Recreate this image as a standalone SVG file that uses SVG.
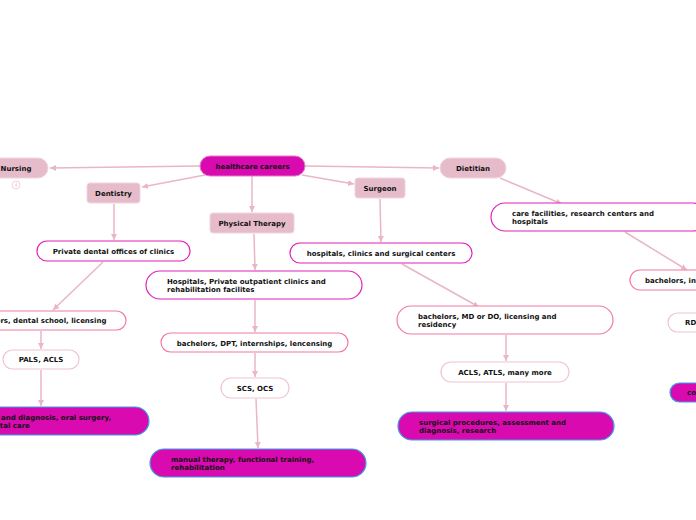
<svg xmlns="http://www.w3.org/2000/svg" width="696" height="520" viewBox="0 0 696 520">
<defs>
<style>
text{font-family:"DejaVu Sans","Liberation Sans",sans-serif;font-weight:bold;font-size:7px;fill:#111}
.m{text-anchor:middle}
.root{fill:#d90ab0;stroke:#e07ac8;stroke-width:1}
.l1{fill:#e6bccb;stroke:#f0d4de;stroke-width:1}
.l2{fill:#fff;stroke:#e020b8;stroke-width:1.2}
.l3{fill:#fff;stroke:#f07aa4;stroke-width:1.2}
.l4{fill:#fff;stroke:#f0c4d2;stroke-width:1.2}
.l5{fill:#d90ab0;stroke:#3aa0e8;stroke-width:1.2}
.c{fill:none;stroke:#e8b6c8;stroke-width:1.5;marker-end:url(#ah)}
</style>
<marker id="ah" markerUnits="userSpaceOnUse" markerWidth="7" markerHeight="7" refX="6" refY="3" orient="auto">
<path d="M0,0 L6,3 L0,6 z" fill="#e8b6c8"/>
</marker>
</defs>
<g id="connectors">
<path class="c" d="M200,166 L50,168"/>
<path class="c" d="M205,175 L142,187"/>
<path class="c" d="M252,176 L252,212"/>
<path class="c" d="M302,175 L354,184"/>
<path class="c" d="M305,166 L439,168"/>
<path class="c" d="M114,204 L114,240"/>
<path class="c" d="M103,262 L53,310"/>
<path class="c" d="M41,331 L41,349"/>
<path class="c" d="M41,370 L41,406"/>
<path class="c" d="M254,234 L255,270"/>
<path class="c" d="M255,300 L255,332"/>
<path class="c" d="M255,353 L255,377"/>
<path class="c" d="M256,399 L258,448"/>
<path class="c" d="M380,199 L381,242"/>
<path class="c" d="M402,264 L479,307"/>
<path class="c" d="M506,335 L506,361"/>
<path class="c" d="M506,383 L506,411"/>
<path class="c" d="M500,178 L562,204"/>
<path class="c" d="M625,232 L687,270"/>
</g>
<g id="healthcare-careers"><rect class="root" x="200" y="156" width="105" height="20" rx="10"/><text class="m" x="252.5" y="168.5">healthcare careers</text></g>
<g id="nursing"><rect class="l1" x="-16" y="158" width="64" height="20" rx="10"/><text class="m" x="16" y="170.5">Nursing</text>
<circle cx="16" cy="185" r="4" fill="#fff" stroke="#f0c4d2" stroke-width="0.8"/><text class="m" x="16" y="187" style="font-size:5px;fill:#f0c4d2;font-weight:normal">4</text></g>
<g id="dentistry"><rect class="l1" x="87" y="183" width="53" height="20" rx="3"/><text class="m" x="113.5" y="195.5">Dentistry</text></g>
<g id="physical-therapy"><rect class="l1" x="210" y="213" width="84" height="20" rx="3"/><text class="m" x="252" y="225.5">Physical Therapy</text></g>
<g id="surgeon"><rect class="l1" x="355" y="178" width="50" height="20" rx="3"/><text class="m" x="380" y="190.5">Surgeon</text></g>
<g id="dietitian"><rect class="l1" x="440" y="158" width="66" height="20" rx="10"/><text class="m" x="473" y="170.5">Dietitian</text></g>
<g id="care-facilities"><rect class="l2" x="491" y="203" width="216" height="28" rx="14"/><text x="512" y="215.5">care facilities, research centers and</text><text x="512" y="224">hospitals</text></g>
<g id="bachelors-internship"><rect class="l3" x="630" y="270" width="114" height="20" rx="10"/><text class="m" x="687" y="282.5">bachelors, internship</text></g>
<g id="rd"><rect class="l4" x="668" y="313" width="70" height="19" rx="9.5"/><text x="685" y="325">RD, LD</text></g>
<g id="counseling"><rect class="l5" x="670" y="383" width="120" height="19" rx="9.5"/><text x="687" y="395">counseling</text></g>
<g id="private-dental"><rect class="l2" x="37" y="241" width="153" height="20" rx="10"/><text class="m" x="113.5" y="253.5">Private dental offices of clinics</text></g>
<g id="bachelors-dental"><rect class="l3" x="-50" y="311" width="176" height="19" rx="9.5"/><text class="m" x="38" y="323">bachelors, dental school, licensing</text></g>
<g id="pals-acls"><rect class="l4" x="3" y="350" width="76" height="19" rx="9.5"/><text class="m" x="41" y="362">PALS, ACLS</text></g>
<g id="dental-procedures"><rect class="l5" x="-67" y="407" width="216" height="28" rx="14"/><text x="-48" y="419.5">assessment and diagnosis, oral surgery,</text><text x="-48" y="428">crowns, dental care</text></g>
<g id="hospitals-private"><rect class="l2" x="146" y="271" width="216" height="28" rx="14"/><text x="167" y="283.5">Hospitals, Private outpatient clinics and</text><text x="167" y="292">rehabilitation facilites</text></g>
<g id="bachelors-dpt"><rect class="l3" x="161" y="333" width="187" height="19" rx="9.5"/><text class="m" x="254.5" y="345.5">bachelors, DPT, internships, lencensing</text></g>
<g id="scs-ocs"><rect class="l4" x="221" y="378" width="68" height="20" rx="10"/><text class="m" x="255" y="390.5">SCS, OCS</text></g>
<g id="manual-therapy"><rect class="l5" x="150" y="449" width="216" height="28" rx="14"/><text x="171" y="461.5">manual therapy, functional training,</text><text x="171" y="470">rehabilitation</text></g>
<g id="hospitals-clinics"><rect class="l2" x="290" y="243" width="182" height="20" rx="10"/><text class="m" x="381" y="255.5">hospitals, clinics and surgical centers</text></g>
<g id="bachelors-md"><rect class="l3" x="397" y="306" width="216" height="28" rx="14"/><text x="418" y="318.5">bachelors, MD or DO, licensing and</text><text x="418" y="327">residency</text></g>
<g id="acls-atls"><rect class="l4" x="441" y="362" width="128" height="20" rx="10"/><text class="m" x="505" y="374.5">ACLS, ATLS, many more</text></g>
<g id="surgical-procedures"><rect class="l5" x="398" y="412" width="216" height="28" rx="14"/><text x="419" y="424.5">surgical procedures, assessment and</text><text x="419" y="433">diagnosis, research</text></g>
</svg>
